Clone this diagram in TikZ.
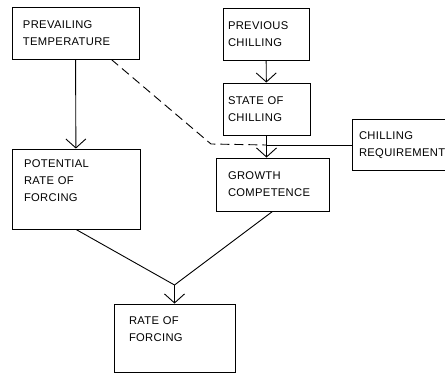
\documentclass[tikz,border=0pt]{standalone}
\usepackage{fontspec}
\setmainfont{Liberation Sans}[LetterSpace=3]
\usetikzlibrary{arrows.meta,calc}

\begin{document}
\begin{tikzpicture}[x=1pt, y=1pt,
    blk/.style={draw, line width=0.9pt, align=left, inner ysep=0pt,
                font=\fontsize{11.2}{17}\selectfont},
    arr/.style={line width=0.9pt, -{Straight Barb[length=9pt, width=20pt]}},
    link/.style={line width=0.9pt}]
                \useasboundingbox (0, 0) rectangle (445, 373);
                \node [blk, text width=105pt, inner xsep=11pt, minimum height=52pt] (temp) at (75.5, 340) {PREVAILING\\TEMPERATURE};
                \node [blk, text width=76pt, inner xsep=5pt, minimum height=52pt] (prev) at (266, 339) {PREVIOUS\\CHILLING};
                \node [blk, text width=77pt, inner xsep=5pt, minimum height=52pt] (state) at (266.5, 264) {STATE OF\\CHILLING};
                \node [blk, text width=89pt, inner xsep=12pt, minimum height=53pt] (growth) at (272.5, 188.5) {GROWTH\\COMPETENCE};
                \node [blk, text width=88pt, inner xsep=7pt, minimum height=51pt] (req) at (403, 228) {CHILLING\\REQUIREMENT};
                \node [blk, text width=104pt, inner xsep=12pt, minimum height=80pt] (potential) at (76, 184) {POTENTIAL\\RATE OF\\FORCING\\\mbox{}};
                \node [blk, text width=91pt, inner xsep=15pt, minimum height=68pt] (rate) at (174.5, 35) {RATE OF\\FORCING\\\mbox{}};
                \coordinate (tempout) at ($(temp.south west)!0.78!(temp.south east)$);
                \coordinate (knee) at (211, 229);
                \coordinate (junction) at (state.south |- req.west);
                \coordinate (merge) at (rate.north |- 0, 88);
                \draw [arr] (temp) -- (potential);
                \draw [arr] (prev) -- (state);
                \draw [arr] (state.south) -- (state.south |- growth.north);
                \draw [link, dashed, dash pattern=on 9pt off 5pt] (tempout) -- (knee) -- (junction);
                \draw [link] (junction) -- (req.west);
                \draw [link] (potential.south) -- (merge);
                \draw [link] (growth.south) -- (merge);
                \draw [arr] (merge) -- (rate.north);
            \end{tikzpicture}
\end{document}
